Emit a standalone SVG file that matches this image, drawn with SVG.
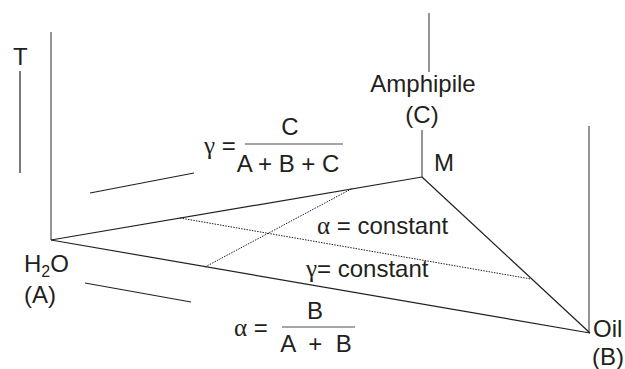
<svg xmlns="http://www.w3.org/2000/svg" width="625" height="369" viewBox="0 0 625 369">
<style>
  text { font-family: "Liberation Sans", Arial, sans-serif; font-size: 24px; fill: #231f20; }
  .g { font-family: "Liberation Serif", "DejaVu Serif", serif; font-size: 25px; }
  .ln { stroke: #231f20; stroke-width: 1.2; fill: none; }
  .ax { stroke: #4d4d4d; stroke-width: 1.2; fill: none; }
  .dot { stroke: #231f20; stroke-width: 1; stroke-dasharray: 1.5 1.2; fill: none; }
  .bar { stroke: #4d4d4d; stroke-width: 1.2; }
</style>
<rect width="625" height="369" fill="#ffffff"/>
<g id="connectors">
  <line class="ax" x1="51" y1="32" x2="51" y2="240"/>
  <line class="ax" x1="429" y1="13" x2="429" y2="72"/>
  <line class="ax" x1="422" y1="130" x2="422" y2="177"/>
  <line class="ax" x1="589" y1="126" x2="589" y2="333"/>
  <line class="ln" x1="51" y1="240" x2="422" y2="177"/>
  <line class="ln" x1="51" y1="240" x2="590" y2="333"/>
  <line class="ln" x1="422" y1="177" x2="590" y2="333"/>
  <line class="dot" x1="180" y1="218" x2="531" y2="279"/>
  <line class="dot" x1="205" y1="267" x2="353" y2="188"/>
  <line class="ln" x1="20" y1="71" x2="20" y2="173"/>
  <line class="ln" x1="90" y1="193" x2="194" y2="173"/>
  <line class="ln" x1="85" y1="283" x2="191" y2="302"/>
</g>
<g id="T-axis"><text x="13" y="65">T</text></g>
<g id="node-A">
  <text x="24" y="272">H<tspan font-size="16" dy="5">2</tspan><tspan dy="-5">O</tspan></text>
  <text x="24" y="303">(A)</text>
</g>
<g id="node-C">
  <text x="423" y="92" text-anchor="middle">Amphipile</text>
  <text x="422" y="123" text-anchor="middle">(C)</text>
</g>
<g id="node-M"><text x="434" y="171">M</text></g>
<g id="node-B">
  <text x="593" y="337">Oil</text>
  <text x="592" y="365">(B)</text>
</g>
<g id="gamma-formula">
  <text x="204" y="154"><tspan class="g">γ</tspan> =</text>
  <line class="bar" x1="245" y1="144" x2="343" y2="144"/>
  <text x="290" y="135" text-anchor="middle">C</text>
  <text x="288" y="172" text-anchor="middle">A + B + C</text>
</g>
<g id="alpha-formula">
  <text x="234" y="336"><tspan class="g">α</tspan> =</text>
  <line class="bar" x1="282" y1="327" x2="355" y2="327"/>
  <text x="315" y="319" text-anchor="middle">B</text>
  <text x="316" y="352" text-anchor="middle" xml:space="preserve">A  +  B</text>
</g>
<g id="alpha-constant"><text x="317" y="234"><tspan class="g">α</tspan> = constant</text></g>
<g id="gamma-constant"><text x="306" y="277"><tspan class="g">γ</tspan>= constant</text></g>
</svg>
